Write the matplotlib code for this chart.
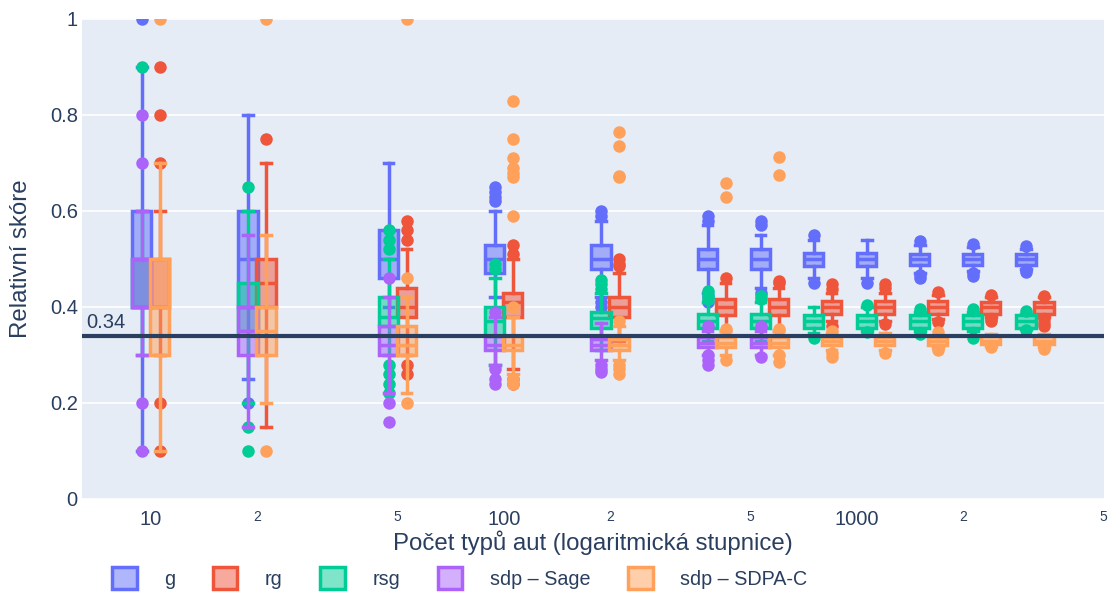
import numpy as np
import matplotlib
matplotlib.use("Agg")
import matplotlib.pyplot as plt
from matplotlib.colors import to_rgba
from matplotlib.patches import Patch

# number of car types (x, log scale)
car_types = [10, 20, 50, 100, 200, 400, 566, 800, 1131, 1600, 2263, 3200]

# box stats per x: (q1, median, q3, whisker low, whisker high)
g_box = [
    (0.40, 0.50, 0.60, 0.10, 0.90), (0.40, 0.50, 0.60, 0.25, 0.80),
    (0.46, 0.50, 0.56, 0.40, 0.70), (0.47, 0.50, 0.53, 0.42, 0.60),
    (0.48, 0.50, 0.53, 0.42, 0.58), (0.48, 0.50, 0.52, 0.43, 0.57),
    (0.48, 0.50, 0.52, 0.44, 0.55), (0.485, 0.50, 0.513, 0.46, 0.54),
    (0.485, 0.50, 0.513, 0.46, 0.54), (0.487, 0.50, 0.511, 0.47, 0.53),
    (0.487, 0.50, 0.511, 0.475, 0.525), (0.487, 0.50, 0.511, 0.48, 0.52),
]
g_out = [[1.0], [0.2], [], [0.62, 0.63, 0.64, 0.65], [0.59, 0.60, 0.41, 0.40],
         [0.58, 0.59, 0.42, 0.41], [0.57, 0.58, 0.43], [0.55, 0.45], [0.45],
         [0.537, 0.461, 0.467], [0.532, 0.464, 0.47], [0.528, 0.472, 0.478]]

rg_box = [
    (0.40, 0.40, 0.50, 0.30, 0.60), (0.40, 0.45, 0.50, 0.15, 0.70),
    (0.38, 0.40, 0.44, 0.30, 0.52), (0.38, 0.41, 0.43, 0.27, 0.50),
    (0.38, 0.40, 0.42, 0.33, 0.47), (0.383, 0.40, 0.416, 0.35, 0.45),
    (0.383, 0.40, 0.416, 0.35, 0.44), (0.385, 0.40, 0.412, 0.37, 0.43),
    (0.385, 0.40, 0.412, 0.37, 0.43), (0.385, 0.40, 0.412, 0.375, 0.425),
    (0.386, 0.40, 0.41, 0.38, 0.42), (0.386, 0.40, 0.41, 0.38, 0.42),
]
rg_out = [[0.1, 0.2, 0.7, 0.8, 0.9], [0.75], [0.54, 0.56, 0.58, 0.28, 0.26],
          [0.51, 0.53, 0.25, 0.24], [0.485, 0.49, 0.50], [0.461], [0.45, 0.455],
          [0.437, 0.447, 0.36], [0.44, 0.447, 0.364], [0.431, 0.368],
          [0.426, 0.376, 0.37], [0.423, 0.374, 0.367, 0.36]]

rsg_box = [
    (0.40, 0.40, 0.50, 0.30, 0.60), (0.35, 0.40, 0.45, 0.20, 0.60),
    (0.36, 0.38, 0.42, 0.30, 0.50), (0.34, 0.37, 0.40, 0.28, 0.46),
    (0.357, 0.378, 0.39, 0.31, 0.43), (0.356, 0.37, 0.385, 0.33, 0.41),
    (0.356, 0.37, 0.385, 0.33, 0.41), (0.357, 0.37, 0.383, 0.345, 0.40),
    (0.357, 0.37, 0.383, 0.35, 0.40), (0.357, 0.37, 0.383, 0.35, 0.39),
    (0.357, 0.37, 0.383, 0.35, 0.39), (0.357, 0.37, 0.383, 0.355, 0.385),
]
rsg_out = [[0.9], [0.65, 0.15, 0.1], [0.52, 0.54, 0.56, 0.28, 0.26, 0.24, 0.22],
           [0.48, 0.49], [0.437, 0.447, 0.457], [0.416, 0.425, 0.433], [0.416, 0.423],
           [0.335], [0.405, 0.347], [0.395, 0.343], [0.395, 0.335], [0.391, 0.353]]

# sdp - Sage only computed up to 566 types
sage_box = [
    (0.40, 0.40, 0.50, 0.30, 0.60), (0.30, 0.35, 0.40, 0.15, 0.55),
    (0.30, 0.32, 0.36, 0.22, 0.42), (0.31, 0.32, 0.34, 0.28, 0.38),
    (0.31, 0.32, 0.333, 0.29, 0.367), (0.316, 0.325, 0.337, 0.30, 0.35),
    (0.316, 0.325, 0.337, 0.30, 0.35),
]
sage_out = [[0.1, 0.2, 0.7, 0.8], [], [0.46, 0.2, 0.16], [0.39, 0.27, 0.25, 0.24],
            [0.28, 0.27, 0.265], [0.36, 0.30, 0.29, 0.28], [0.36, 0.295]]

sdpa_box = [
    (0.30, 0.40, 0.50, 0.10, 0.70), (0.30, 0.35, 0.40, 0.20, 0.55),
    (0.30, 0.32, 0.36, 0.22, 0.42), (0.31, 0.32, 0.34, 0.26, 0.38),
    (0.31, 0.32, 0.333, 0.29, 0.36), (0.316, 0.325, 0.337, 0.30, 0.35),
    (0.316, 0.325, 0.337, 0.30, 0.35), (0.32, 0.33, 0.337, 0.31, 0.345),
    (0.32, 0.33, 0.337, 0.31, 0.345), (0.32, 0.33, 0.337, 0.315, 0.34),
    (0.322, 0.33, 0.34, 0.318, 0.343), (0.322, 0.33, 0.34, 0.316, 0.343),
]
sdpa_out = [[1.0], [0.1, 1.0], [0.46, 0.2, 1.0],
            [0.40, 0.59, 0.67, 0.68, 0.69, 0.71, 0.75, 0.83, 0.25, 0.24],
            [0.37, 0.28, 0.27, 0.26, 0.67, 0.672, 0.735, 0.765],
            [0.355, 0.29, 0.63, 0.658], [0.355, 0.30, 0.285, 0.676, 0.713],
            [0.35, 0.305, 0.295], [0.305], [0.347, 0.31], [0.316], [0.312]]

baseline = 0.34

TEXT = "#2a3f5f"
BOX_W = 0.054   # box width in decades
SHIFT = 0.0255  # offset of left/right box from the group centre, decades

plt.rcParams["font.family"] = ["Liberation Sans", "DejaVu Sans"]

fig = plt.figure(figsize=(11.1, 5.93), dpi=100)
ax = fig.add_axes([82 / 1110, 94 / 593, 1022 / 1110, 480 / 593])
ax.set_facecolor("#e5ecf6")
ax.set_xscale("log")


def draw_trace(box, out, shift, color, z):
    xs = np.array(car_types[:len(box)], dtype=float) * 10 ** shift
    half = 10 ** (BOX_W / 2)
    widths = xs * (half - 1 / half)
    stats = [dict(q1=b[0], med=b[1], q3=b[2], whislo=b[3], whishi=b[4], fliers=o)
             for b, o in zip(box, out)]
    lw = 2.5
    ax.bxp(stats, positions=xs, widths=widths, capwidths=widths * 0.5,
           patch_artist=True, manage_ticks=False, zorder=z,
           boxprops=dict(facecolor=to_rgba(color, 0.5), edgecolor=color, linewidth=lw),
           whiskerprops=dict(color=color, linewidth=lw),
           capprops=dict(color=color, linewidth=lw),
           medianprops=dict(color=color, linewidth=lw),
           flierprops=dict(marker="o", markerfacecolor=color, markeredgecolor=color,
                           markeredgewidth=0, markersize=9, linestyle="none"))


traces = [
    ("g", g_box, g_out, -SHIFT, "#636efa"),
    ("rg", rg_box, rg_out, SHIFT, "#ef553b"),
    ("rsg", rsg_box, rsg_out, -SHIFT, "#00cc96"),
    ("sdp – Sage", sage_box, sage_out, -SHIFT, "#ab63fa"),
    ("sdp – SDPA-C", sdpa_box, sdpa_out, SHIFT, "#ffa15a"),
]
handles = []
for i, (name, box, out, shift, color) in enumerate(traces):
    draw_trace(box, out, shift, color, 3 + i)
    handles.append(Patch(facecolor=to_rgba(color, 0.5), edgecolor=color,
                         linewidth=2.5, label=name))

ax.axhline(baseline, color=TEXT, linewidth=3, zorder=20)
ax.annotate(f"{baseline:g}", xy=(0.004, baseline), xycoords=("axes fraction", "data"),
            xytext=(0, 3), textcoords="offset points", va="bottom", ha="left",
            color=TEXT, fontsize=14.5, zorder=21)

ax.set_xlim(10 ** 0.8045, 10 ** 3.6997)
ax.set_ylim(0, 1)
ax.set_yticks([0, 0.2, 0.4, 0.6, 0.8, 1], ["0", "0.2", "0.4", "0.6", "0.8", "1"])
ax.set_xticks([10, 100, 1000], ["10", "100", "1000"])
ax.set_xticks([20, 50, 200, 500, 2000, 5000], ["2", "5", "2", "5", "2", "5"],
              minor=True)
ax.tick_params(axis="both", which="both", length=0, colors=TEXT, labelsize=14.5)
ax.tick_params(axis="x", which="minor", labelsize=10)
ax.tick_params(axis="x", which="both", pad=8)
ax.tick_params(axis="y", pad=3)
ax.grid(axis="y", color="white", linewidth=1.2)
ax.set_axisbelow(True)
for s in ax.spines.values():
    s.set_visible(False)

ax.set_xlabel("Počet typů aut (logaritmická stupnice)", color=TEXT, fontsize=17.3)
ax.xaxis.label.set_va("center")
ax.xaxis.set_label_coords(0.5, (499 - 543) / 480)
ax.set_ylabel("Relativní skóre", color=TEXT, fontsize=17.3)
ax.yaxis.label.set_va("center")
ax.yaxis.set_label_coords((21 - 82) / 1022, 0.5)

fig.legend(handles=handles, loc="center left", bbox_to_anchor=(102 / 1110, 1 - 578 / 593),
           ncol=5, frameon=False, fontsize=14.2, borderpad=0, handlelength=1.25,
           handleheight=1.4, handletextpad=1.4, columnspacing=1.9, labelcolor=TEXT)

fig.savefig("out.png", dpi=100)
